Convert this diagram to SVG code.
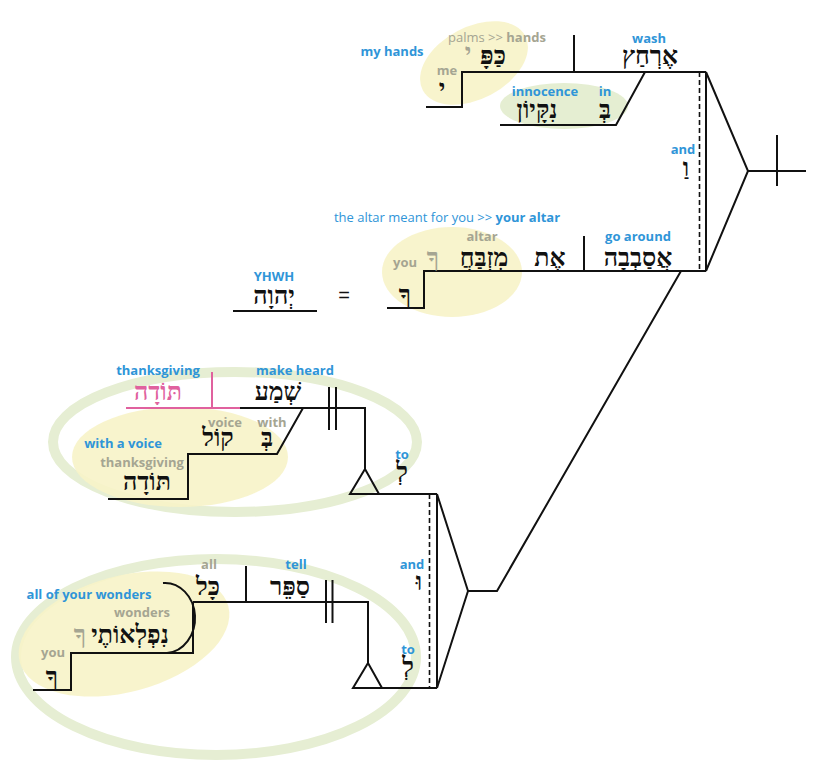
<svg xmlns="http://www.w3.org/2000/svg" width="825" height="773" viewBox="0 0 825 773">
<style>
.ln{stroke:#111;stroke-width:2;fill:none}
.dash{stroke:#111;stroke-width:1.6;fill:none;stroke-dasharray:5,3}
.en{font-family:"Open Sans","Liberation Sans",sans-serif;font-size:13px;font-weight:bold;text-anchor:middle}
.he{font-family:"Liberation Serif","DejaVu Sans",serif;font-size:25px;font-weight:bold;text-anchor:middle;fill:#111}
.bl{fill:#2f95d8}
.gr{fill:#a5a592}
.pk{fill:#e0619e}
.yel{fill:#f7f3c8;opacity:0.9}
.ring{fill:none;stroke:#e6eed3;stroke-width:10}
</style>
<rect width="825" height="773" fill="#fff"/>
<g id="highlights">
<ellipse cx="474" cy="63" rx="58" ry="36" transform="rotate(-28 474 63)" class="yel"/>
<ellipse cx="564" cy="106" rx="64" ry="23" fill="#e5eed2"/>
<ellipse cx="452" cy="272" rx="70" ry="45" class="yel"/>
<ellipse cx="235" cy="442" rx="182" ry="70" class="ring"/>
<ellipse cx="180" cy="457" rx="108" ry="50" class="yel"/>
<ellipse cx="216" cy="657" rx="200" ry="98" class="ring"/>
<ellipse cx="124" cy="634" rx="108" ry="58" transform="rotate(-15 124 634)" class="yel"/>
</g>
<g id="connectors">
<polyline class="ln" points="426,107 462,107 462,72 706,72"/>
<line class="ln" x1="574" y1="35" x2="574" y2="72"/>
<polyline class="ln" points="645,72 616,125 500,125"/>
<polyline class="ln" points="387,308 424,308 424,271 706,271"/>
<line class="ln" x1="584" y1="236" x2="584" y2="271"/>
<line class="ln" x1="233" y1="311" x2="317" y2="311"/>
<line class="ln" x1="706" y1="72" x2="706" y2="271"/>
<line class="dash" x1="699.5" y1="72" x2="699.5" y2="271"/>
<polyline class="ln" points="706,72 748,171 706,271"/>
<line class="ln" x1="748" y1="171" x2="806" y2="171"/>
<line class="ln" x1="777" y1="135" x2="777" y2="186"/>
<polyline class="ln" points="681,271 497,591 468,591"/>
<line class="ln" x1="437" y1="494" x2="437" y2="688"/>
<line class="dash" x1="429.5" y1="494" x2="429.5" y2="688"/>
<polyline class="ln" points="437,494 468,591 437,688"/>
<line x1="126" y1="408" x2="240" y2="408" stroke="#e0619e" stroke-width="2"/>
<line x1="212" y1="372" x2="212" y2="408" stroke="#e0619e" stroke-width="2"/>
<polyline class="ln" points="240,408 365,408 365,469"/>
<line class="ln" x1="329" y1="387" x2="329" y2="430"/>
<line class="ln" x1="336" y1="387" x2="336" y2="430"/>
<polygon class="ln" points="365,469 350,494 379,494"/>
<line class="ln" x1="350" y1="494" x2="437" y2="494"/>
<polyline class="ln" points="303,408 277,454 188,454 188,499 108,499"/>
<polyline class="ln" points="193,602 368,602 368,663"/>
<line class="ln" x1="246" y1="566" x2="246" y2="602"/>
<line class="ln" x1="326" y1="580" x2="326" y2="623"/>
<line class="ln" x1="332.5" y1="580" x2="332.5" y2="623"/>
<polygon class="ln" points="368,663 353,688 382,688"/>
<line class="ln" x1="353" y1="688" x2="437" y2="688"/>
<polyline class="ln" points="193,602 193,653 71,653 71,690 33,690"/>
<path class="ln" d="M163,583 A30,35 0 0,1 167,653"/>
</g>
<g id="node-wash">
<text class="en bl" x="649" y="43">wash</text>
<text class="he" x="650" y="64">אֶרְחַץ</text>
</g>
<g id="node-palms">
<text class="en gr" x="497" y="42"><tspan font-weight="normal">palms &gt;&gt; </tspan>hands</text>
<text class="en bl" x="392" y="56">my hands</text>
<text class="he" x="493" y="64">כַּפָּ</text>
<text class="he gr" x="468" y="61" font-size="16">י</text>
<text class="en gr" x="447" y="75">me</text>
<text class="he" x="442" y="97">י</text>
</g>
<g id="node-innocence">
<text class="en bl" x="545" y="96">innocence</text>
<text class="en bl" x="605" y="96">in</text>
<text class="he" x="537" y="118">נִקָּיוֹן</text>
<text class="he" x="605" y="118">בְּ</text>
</g>
<g id="node-and1">
<text class="en bl" x="683" y="154">and</text>
<text class="he" x="686" y="176">וַ</text>
</g>
<g id="node-altar">
<text class="en bl" x="447" y="222"><tspan font-weight="normal">the altar meant for you &gt;&gt; </tspan>your altar</text>
<text class="en gr" x="482" y="241">altar</text>
<text class="he" x="484" y="266">מִזְבַּחֲ</text>
<text class="he gr" x="433" y="266">ךָ</text>
<text class="en gr" x="405" y="267">you</text>
<text class="he" x="405" y="303">ךָ</text>
<text class="he" x="550" y="266">אֶת</text>
<text class="en bl" x="638" y="241">go around</text>
<text class="he" x="638" y="266">אֲסַבְבָה</text>
</g>
<g id="node-yhwh">
<text class="en bl" x="274" y="281">YHWH</text>
<text class="he" x="274" y="304">יְהוָה</text>
<text x="344" y="302" font-family="Liberation Sans,sans-serif" font-size="20" text-anchor="middle" fill="#111">=</text>
</g>
<g id="node-makeheard">
<text class="en bl" x="158" y="375">thanksgiving</text>
<text class="he pk" x="158" y="400">תּוֹדָה</text>
<text class="en bl" x="295" y="375">make heard</text>
<text class="he" x="278" y="400">שְׁמַע</text>
<text class="en gr" x="225" y="427">voice</text>
<text class="en gr" x="272" y="427">with</text>
<text class="he" x="218" y="446">קוֹל</text>
<text class="he" x="267" y="446">בְּ</text>
<text class="en bl" x="123" y="448">with a voice</text>
<text class="en gr" x="142" y="467">thanksgiving</text>
<text class="he" x="147" y="490">תּוֹדָה</text>
<text class="en bl" x="402" y="459">to</text>
<text class="he" x="402" y="480">לְ</text>
</g>
<g id="node-and2">
<text class="en bl" x="412" y="569">and</text>
<text class="he" x="419" y="590">וּ</text>
</g>
<g id="node-tell">
<text class="en gr" x="209" y="569">all</text>
<text class="he" x="208" y="595">כָּל</text>
<text class="en bl" x="296" y="569">tell</text>
<text class="he" x="290" y="595">סַפֵּר</text>
<text class="en bl" x="89" y="599">all of your wonders</text>
<text class="en gr" x="142" y="617">wonders</text>
<text class="he" x="130" y="643">נִפְלְאוֹתֶי</text>
<text class="he gr" x="80" y="643">ךָ</text>
<text class="en gr" x="53" y="657">you</text>
<text class="he" x="52" y="685">ךָ</text>
<text class="en bl" x="408" y="654">to</text>
<text class="he" x="408" y="675">לְ</text>
</g>
</svg>
